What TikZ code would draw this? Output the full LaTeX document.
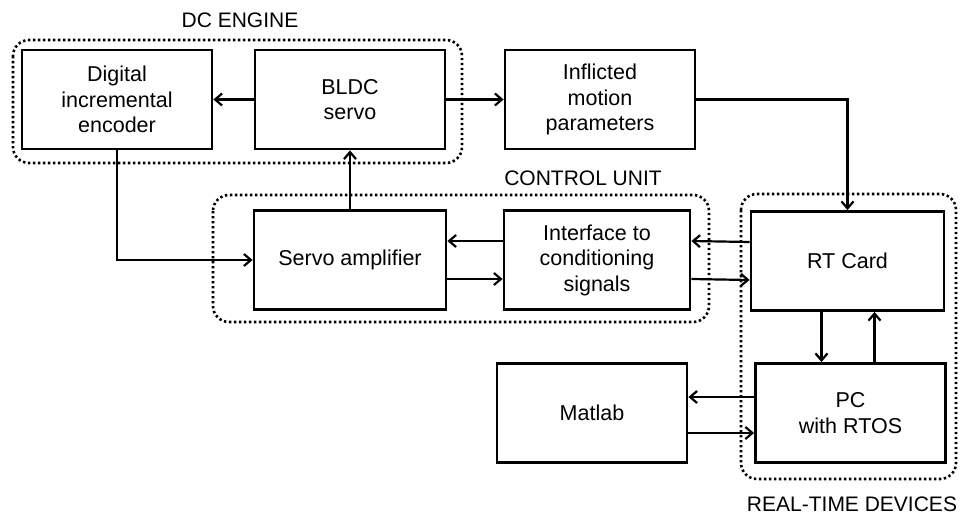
\documentclass[tikz,border=0pt]{standalone}
\usepackage{fontspec}
\setmainfont{Liberation Sans}
\usetikzlibrary{arrows.meta}
\begin{document}
\begin{tikzpicture}[x=1pt,y=-1pt,
  blk/.style={draw,line width=2.8pt,minimum width=190pt,minimum height=99pt,align=center,inner sep=0pt,font=\fontsize{21.5}{25.5}\selectfont},
  arr/.style={line width=2.2pt,-{Straight Barb[length=7pt,width=12pt,line width=2.2pt]}},
  grp/.style={line width=2.6pt,dash pattern=on 2.4pt off 2.6pt,rounded corners=16pt},
  lab/.style={font=\fontsize{21}{25}\selectfont,inner sep=0pt}]
\useasboundingbox (0,0) rectangle (960,516);
\fill[white] (0,0) rectangle (960,516);
% groups
\draw[grp] (13,40) rectangle (462,163);
\draw[grp] (213,195) rectangle (709,322);
\draw[grp] (741,194) rectangle (956,479);
\node[lab] (tdc) at (240,20) {DC ENGINE};
\node[lab] (tcu) at (583,178) {CONTROL UNIT};
\node[lab] (trt) at (852,504) {REAL-TIME DEVICES};
% blocks
\node[blk] (enc) at (117,99.5) {Digital\\incremental\\encoder};
\node[blk] (bldc) at (350,99.5) {BLDC\\servo};
\node[blk] (inf) at (600,99.5) {Inflicted\\motion\\parameters};
\node[blk,minimum width=192pt] (servo) at (350,260) {Servo amplifier};
\node[blk,minimum width=186pt] (iface) at (597,260) {Interface to\\conditioning\\signals};
\node[blk,minimum width=193pt] (rt) at (847.5,261) {RT Card};
\node[blk] (pc) at (850.5,413) {PC\\with RTOS};
\node[blk] (mat) at (592,413) {Matlab};
% connectors
\draw[arr] (bldc.west) -- (enc.east);
\draw[arr] (bldc.east) -- (inf.west);
\draw[arr] (inf.east) -| (rt.north);
\draw[arr] (enc.south) |- (servo.west);
\draw[arr] (servo.north) -- (bldc.south);
\draw[arr] ([yshift=19pt]iface.west) -- ([yshift=19pt]servo.east);
\draw[arr] ([yshift=-19pt]servo.east) -- ([yshift=-19pt]iface.west);
\draw[arr] ([yshift=19pt]rt.west) -- ([yshift=19pt]iface.east);
\draw[arr] ([yshift=-19pt]iface.east) -- ([yshift=-19pt]rt.west);
\draw[arr] ([xshift=-26pt]rt.south) -- ([xshift=-29pt]pc.north);
\draw[arr] ([xshift=24pt]pc.north) -- ([xshift=27pt]rt.south);
\draw[arr] ([yshift=16pt]pc.west) -- ([yshift=16pt]mat.east);
\draw[arr] ([yshift=-20pt]mat.east) -- ([yshift=-20pt]pc.west);
\end{tikzpicture}
\end{document}
